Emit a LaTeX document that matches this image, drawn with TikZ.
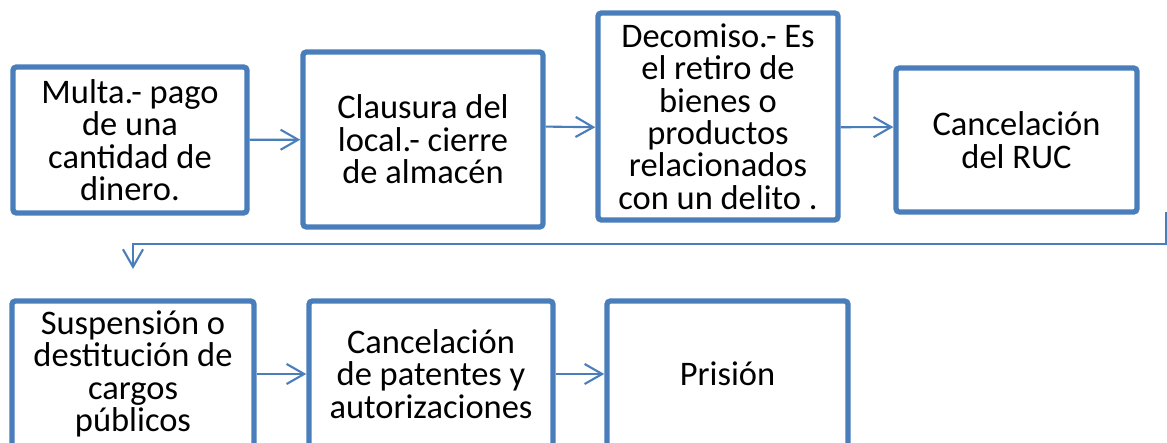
\documentclass[tikz,border=0pt]{standalone}
\usepackage{fontspec}
\setmainfont{Carlito}
\usetikzlibrary{arrows.meta}
\definecolor{azul}{RGB}{74,126,187}

\begin{document}
\begin{tikzpicture}[x=0.01cm, y=-0.01cm,
	caja/.style={rectangle, draw=azul, line width=1.5pt, rounded corners=1pt, align=center, inner sep=0pt, font=\fontsize{9.8}{9.2}\selectfont},
	flecha/.style={draw=azul, line width=0.6pt, -{Straight Barb[length=5pt, width=5.7pt]}}]
			\useasboundingbox (0,0) rectangle (1167,443);
			
			\node[caja, minimum width=2.34cm, minimum height=1.46cm] (b1) at (130,140){Multa.- pago\\de una\\cantidad de\\dinero.};
			\node[caja, minimum width=2.40cm, minimum height=1.75cm] (b2) at (423,139.5){Clausura del\\local.- cierre\\de almacén};
			\node[caja, minimum width=2.40cm, minimum height=2.07cm] (b3) at (718,116.5){Decomiso.- Es\\el retiro de\\bienes o\\productos\\relacionados\\con un delito .};
			\node[caja, minimum width=2.41cm, minimum height=1.44cm] (b4) at (1016.5,140){Cancelación\\del RUC};
			
			\node[caja, minimum width=2.42cm, minimum height=1.46cm] (b5) at (133,374){Suspensión o\\destitución de\\cargos\\públicos};
			\node[caja, minimum width=2.44cm, minimum height=1.46cm] (b6) at (431,374){Cancelación\\de patentes y\\autorizaciones};
			\node[caja, minimum width=2.41cm, minimum height=1.46cm] (b7) at (727.5,374){Prisión};
			
			\coordinate (ini) at (1166,212);
			\coordinate (fin) at (133,269);
			
			\path (b1) edge[flecha] (b2);
			\path (b2.6) edge[flecha] (b3.185);
			\path (b3.355) edge[flecha] (b4.174);
			\path[flecha] (ini) -- ++(0,32) -| (fin);
			\path (b5) edge[flecha] (b6);
			\path (b6) edge[flecha] (b7);
\end{tikzpicture}
\end{document}
